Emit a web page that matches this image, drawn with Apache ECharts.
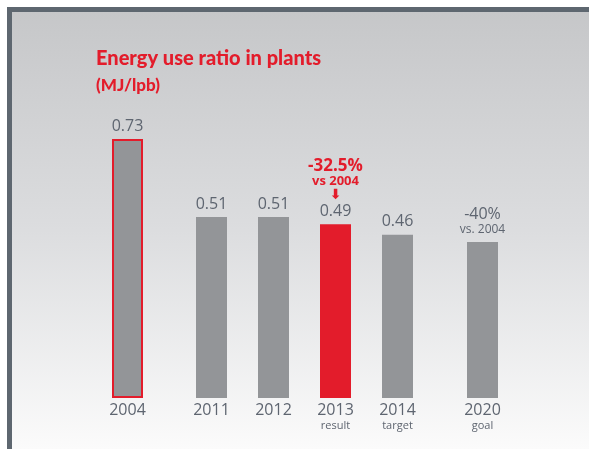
<!DOCTYPE html>
<html>
<head>
<meta charset="utf-8">
<script src="https://cdn.jsdelivr.net/npm/echarts@6/dist/echarts.min.js"></script>
<style>
  html, body { margin: 0; padding: 0; background: #fff; }
  #chart { width: 589px; height: 449px; }
</style>
</head>
<body>
<div id="chart"></div>
<script>
const years = ['2004', '2011', '2012', '2013', '2014', '2020']
const subLabels = ['', '', '', 'result', 'target', 'goal']
const values = [0.73, 0.51, 0.51, 0.49, 0.46, 0.44]
const barLabels = ['0.73', '0.51', '0.51', '0.49', '0.46', '-40%']
const barLabelSubs = ['', '', '', '', '', 'vs. 2004']
const topNotes = ['', '', '', '-32.5%', '', '']
const topNoteSubs = ['', '', '', 'vs 2004', '', '']
// bars are drawn in three groups so the gaps match the original
const groups = [[0], [1, 2, 3, 4], [5]]

const RED = '#e31c2b'
const GREY = '#939598'
const TEXT = '#5e6570'
const FONT = 'Open Sans'

const chart = echarts.init(document.getElementById('chart'))

const gridPos = [
  { left: 96.5, width: 62 },
  { left: 180.5, width: 248 },
  { left: 451.5, width: 62 }
]

function labelText(i) {
  let s = ''
  if (topNotes[i]) s += '{n|' + topNotes[i] + '}\n{ns|' + topNoteSubs[i] + '}\n{ar|⬇}\n'
  s += '{v|' + barLabels[i] + '}'
  if (barLabelSubs[i]) s += '\n{vs|' + barLabelSubs[i] + '}'
  return s
}

const grids = [], xAxes = [], yAxes = [], series = []
groups.forEach((idx, g) => {
  grids.push({ left: gridPos[g].left, width: gridPos[g].width, top: 43.2, bottom: 51 })
  xAxes.push({
    type: 'category',
    gridIndex: g,
    data: idx.map(i => years[i]),
    axisLine: { show: false },
    axisTick: { show: false },
    axisLabel: {
      interval: 0,
      margin: 3,
      formatter: v => {
        const i = years.indexOf(v)
        return '{y|' + v + '}' + (subLabels[i] ? '\n{s|' + subLabels[i] + '}' : '')
      },
      rich: {
        y: { fontFamily: FONT, fontSize: 16, color: TEXT, lineHeight: 18 },
        s: { fontFamily: FONT, fontSize: 11, color: TEXT, lineHeight: 13 }
      }
    }
  })
  yAxes.push({
    type: 'value',
    gridIndex: g,
    min: 0,
    max: 1,
    show: false
  })
  series.push({
    type: 'bar',
    xAxisIndex: g,
    yAxisIndex: g,
    barWidth: 31,
    data: idx.map(i => ({
      value: values[i],
      itemStyle: i === 0
        ? { color: GREY, borderColor: RED, borderWidth: 2 }
        : { color: years[i] === '2013' ? RED : GREY }
    })),
    label: {
      show: true,
      position: 'top',
      distance: 5,
      formatter: p => labelText(years.indexOf(p.name)),
      rich: {
        n: { fontFamily: FONT, fontSize: 17, fontWeight: 'bold', color: RED, lineHeight: 16 },
        ns: { fontFamily: FONT, fontSize: 13, fontWeight: 'bold', color: RED, lineHeight: 14 },
        ar: { fontFamily: 'DejaVu Sans', fontSize: 14, fontWeight: 'bold', color: RED, lineHeight: 15 },
        v: { fontFamily: FONT, fontSize: 16, color: TEXT, lineHeight: 16 },
        vs: { fontFamily: FONT, fontSize: 12, color: TEXT, lineHeight: 14 }
      }
    }
  })
})

chart.setOption({
  animation: false,
  backgroundColor: '#ffffff',
  title: {
    text: 'Energy use ratio in plants',
    subtext: '(MJ/lpb)',
    left: 96,
    top: 46,
    padding: 0,
    itemGap: 4,
    textStyle: { fontFamily: 'Lato', fontSize: 20, fontWeight: 900, color: RED, lineHeight: 26 },
    subtextStyle: { fontFamily: 'Lato', fontSize: 17, fontWeight: 900, color: RED, lineHeight: 20 }
  },
  graphic: [
    { type: 'rect', z: -10, silent: true, shape: { x: 7, y: 7, width: 582, height: 442 }, style: { fill: '#5e6770' } },
    {
      type: 'rect', z: -9, silent: true,
      shape: { x: 12, y: 12, width: 577, height: 437 },
      style: {
        fill: new echarts.graphic.LinearGradient(0, 0, 0, 1, [
          { offset: 0, color: '#c6c7c9' },
          { offset: 0.5, color: '#dcdddf' },
          { offset: 1, color: '#fbfbfb' }
        ])
      }
    }
  ],
  grid: grids,
  xAxis: xAxes,
  yAxis: yAxes,
  series: series
})
</script>
</body>
</html>
